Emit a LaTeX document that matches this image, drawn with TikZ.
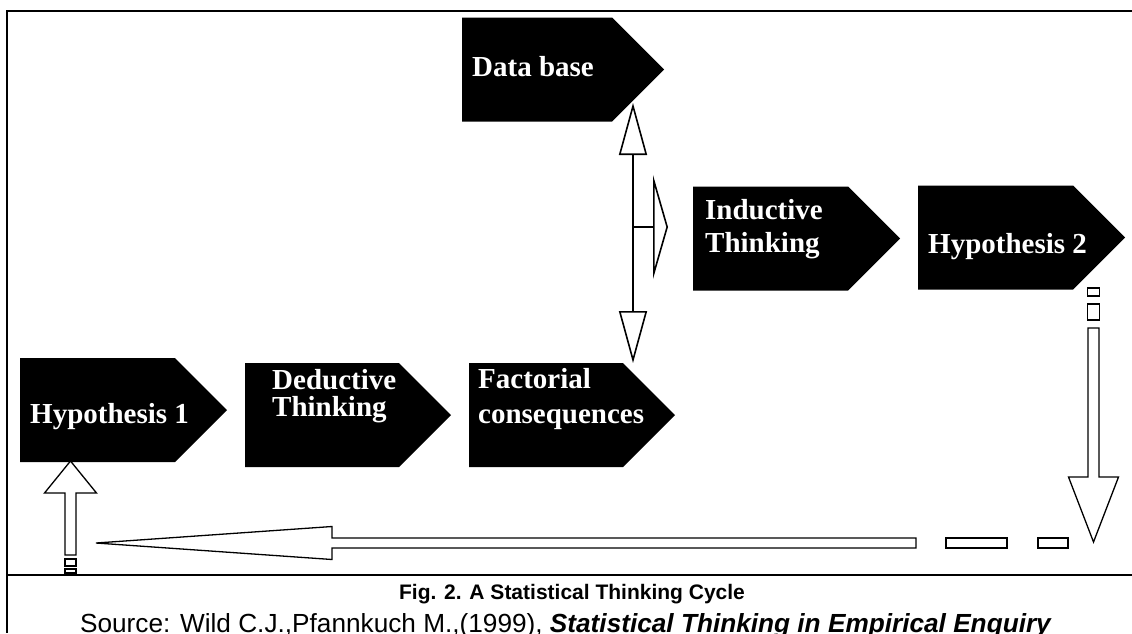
\documentclass[tikz,border=0pt]{standalone}
\usepackage{fontspec}
\setmainfont{Liberation Serif}
\setsansfont{Liberation Sans}
\usetikzlibrary{arrows.meta}
\usetikzlibrary{shapes.symbols}
\usetikzlibrary{calc}

\begin{document}
\begin{tikzpicture}[x=1pt,y=-1pt,
			stage/.style={signal, signal to=east, signal pointer angle=90, fill=black,
				inner sep=0pt, minimum width=206pt, minimum height=104pt},
			stagetext/.style={font=\bfseries\fontsize{29}{27}\selectfont, text=white,
				align=left, inner sep=0pt, anchor=north west},
			hollow/.style={draw=black, line width=1.3pt, fill=white, line join=miter},
			link/.style={line width=1.6pt, -{Triangle[open,length=52pt,width=28pt]}}]
			\useasboundingbox (0,0) rectangle (1132,633);
			
			% frame
			\draw[line width=2pt] (1132,11) -- (7,11) -- (7,633);
			\draw[line width=2pt] (7,575) -- (1132,575);
			
			% stages
			\node[stage, minimum width=202pt] (data) at (537,69.5) {};
			\node[stage, minimum width=207pt] (hyp1) at (97.5,410) {};
			\node[stage] (ded) at (322,415) {};
			\node[stage] (fac) at (546,415) {};
			\node[stage, minimum width=207pt] (ind) at (770.5,238.5) {};
			\node[stage, minimum width=207pt] (hyp2) at (995.5,237.5) {};
			
			\node[stagetext] (datatext) at (472,56) {Data base};
			\node[stagetext] (hyp1text) at (30,403) {Hypothesis 1};
			\node[stagetext] (dedtext) at (272,369) {Deductive\\Thinking};
			\node[stagetext] (factext) at (478,368) {Factorial\\[8pt]consequences};
			\node[stagetext] (indtext) at (705,199) {Inductive\\[6pt]Thinking};
			\node[stagetext] (hyp2text) at (928,233) {Hypothesis 2};
			
			% data base <-> factorial consequences, branch to inductive thinking
			\coordinate (split) at (633,227);
			\coordinate (upend) at (633,103);
			\coordinate (downend) at (633,363);
			\coordinate (sideend) at (668,227);
			\draw[link] (split) -- (upend);
			\draw[link] (split) -- (downend);
			\draw[line width=1.6pt, -{Triangle[open,length=15pt,width=104pt]}] (split) -- (sideend);
			
			% cycle back from hypothesis 2 to hypothesis 1
			\coordinate (downtip) at (1093.5,542);
			\coordinate (backtip) at (96,543);
			\coordinate (uptip) at (70.5,461);
			\draw[hollow] (downtip) -- ++(25,-65) -- ++(-19.5,0) -- ++(0,-149) -- ++(-11,0)
				-- ++(0,149) -- ++(-19.5,0) -- cycle;
			\draw[hollow] (backtip) -- ++(236,-16.5) -- ++(0,11.5) -- ++(584,0) -- ++(0,10)
				-- ++(-584,0) -- ++(0,11.5) -- cycle;
			\draw[hollow] (uptip) -- ++(26,32) -- ++(-20.5,0) -- ++(0,62) -- ++(-11,0)
				-- ++(0,-62) -- ++(-20.5,0) -- cycle;
			
			\draw[hollow] (1087.5,288) rectangle (1099.5,296);
			\draw[hollow] (1087.5,304) rectangle (1099.5,320);
			\draw[hollow] (946,538) rectangle (1007,548);
			\draw[hollow] (1038,538) rectangle (1068,548);
			\draw[hollow] (65,559) rectangle (76,566);
			\draw[hollow] (65,569) rectangle (76,573);
			
			% caption
			\node[font=\sffamily\bfseries\fontsize{21}{25}\selectfont, inner sep=0pt,
				anchor=base] (title) at (572,599) {Fig. 2. A Statistical Thinking Cycle};
			\node[font=\sffamily\fontsize{26.2}{31}\selectfont, inner sep=0pt,
				anchor=base] (source) at (566,632)
				{Source: Wild C.J.,Pfannkuch M.,(1999), \textbf{\textit{Statistical Thinking in Empirical Enquiry}}};
		\end{tikzpicture}
\end{document}
